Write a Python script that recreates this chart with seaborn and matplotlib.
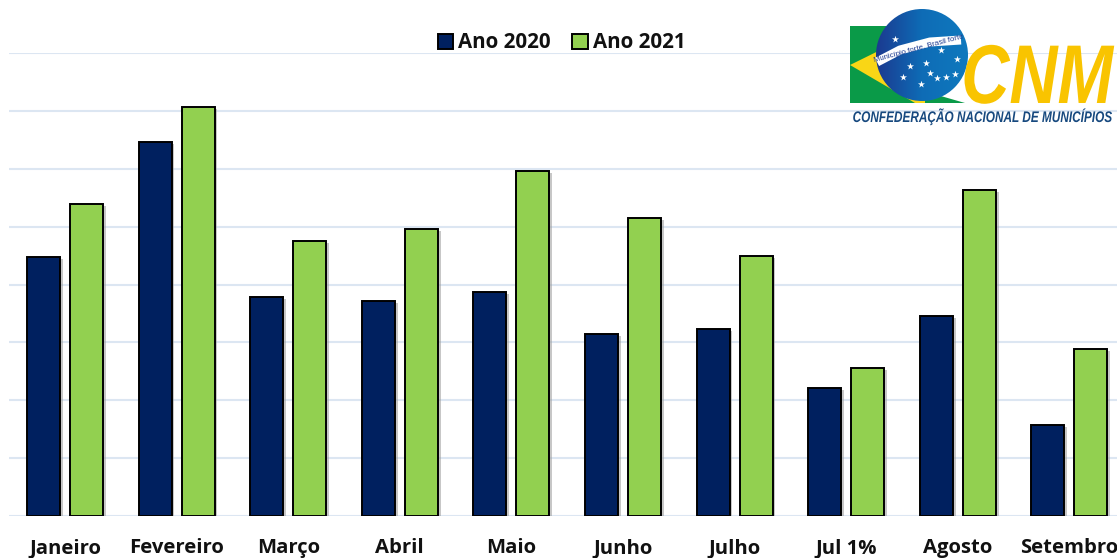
import numpy as np
import pandas as pd
import matplotlib.pyplot as plt
import matplotlib.patheffects as pe
from matplotlib.colors import LinearSegmentedColormap
from matplotlib.patches import Circle, Polygon
from matplotlib.transforms import Affine2D
import seaborn as sns

meses = ['Janeiro', 'Fevereiro', 'Março', 'Abril', 'Maio', 'Junho', 'Julho', 'Jul 1%', 'Agosto', 'Setembro']
ano_2020 = [4.47, 6.46, 3.78, 3.71, 3.87, 3.14, 3.23, 2.21, 3.45, 1.57]
ano_2021 = [5.39, 7.06, 4.75, 4.96, 5.96, 5.15, 4.49, 2.56, 5.63, 2.88]

# logo bits, in pixels of the picture
estrelas_x = [895, 941, 957, 910, 926, 903, 930, 937, 946, 955, 921]
estrelas_y = [39, 50, 59, 66, 63, 77, 73, 78, 77, 74, 84]
faixa_x = [877, 900, 930, 961]
faixa_y = [62, 50, 42, 40]


# the logo lettering is taller than any installed font, so stretch it upwards
class Esticar(pe.AbstractPathEffect):
    def __init__(self, base, sy, dy=0):
        super().__init__()
        self.base, self.sy, self.dy = base, sy, dy

    def draw_path(self, renderer, gc, tpath, affine, rgbFace=None):
        t = Affine2D().translate(0, -self.base).scale(1, self.sy).translate(0, self.base + self.dy)
        renderer.draw_path(gc, tpath, affine + t, rgbFace)


sns.set_theme(style='white')
plt.rcParams['font.family'] = ['Open Sans', 'DejaVu Sans']

df = pd.DataFrame({
    'mes': meses * 2,
    'ano': ['Ano 2020'] * len(meses) + ['Ano 2021'] * len(meses),
    'valor': ano_2020 + ano_2021,
})

fig = plt.figure(figsize=(11.17, 5.58), dpi=100)
ax = fig.add_axes([9.2 / 1117, 1 - 516 / 558, 1116 / 1117, 463 / 558])

sns.barplot(data=df, x='mes', y='valor', hue='ano', palette=['#00205F', '#92D050'],
            width=0.77, gap=0.23, edgecolor='black', linewidth=1.4, saturation=1, ax=ax, zorder=3)

for bar in ax.patches:
    bar.set_path_effects([pe.SimplePatchShadow(offset=(2, -1.5), shadow_rgbFace='#9a9a9a', alpha=0.55), pe.Normal()])

ax.set_ylim(0, 8)
ax.set_xlim(-0.5, 9.5)
ax.set_yticks(range(9))
ax.set_yticklabels([])
ax.grid(axis='y', color='#DCE6F2', linewidth=1.5, zorder=0)
ax.set_axisbelow(True)
ax.set_xlabel('')
ax.set_ylabel('')
ax.tick_params(axis='x', length=0, pad=16)
for lab in ax.get_xticklabels():
    lab.set_fontsize(14.6)
    lab.set_fontweight('bold')
    lab.set_color('#111111')
sns.despine(ax=ax, left=True, bottom=True, top=True, right=True)

leg = ax.legend(loc='center', bbox_to_anchor=((561.5 - 9.2) / 1116, (516 - 43) / 463), ncol=2, frameon=False,
                prop={'size': 14.8, 'weight': 'bold'}, handlelength=0.75, handleheight=0.75,
                handletextpad=0.25, columnspacing=1.05, borderpad=0)
for t in leg.get_texts():
    t.set_color('#111111')
for h in leg.legend_handles:
    h.set_path_effects([])

# logo CNM
logo = fig.add_axes([0, 0, 1, 1], zorder=5)
logo.axis('off')
logo.patch.set_alpha(0)

logo.add_patch(Polygon([(850, 26), (920, 26), (920, 90), (965, 103), (850, 103)], color='#0A9A48', lw=0))
logo.add_patch(Polygon([(850, 65), (925, 28), (925, 103), (915, 103)], color='#F9D616', lw=0))

grad = LinearSegmentedColormap.from_list('globo', ['#1B3A90', '#0E6CB6', '#0F79BE'])
img = logo.imshow(np.linspace(0, 1, 92).reshape(1, -1), extent=(876, 968, 101, 9), cmap=grad, aspect='auto', zorder=2)
globo = Circle((922, 55), 46, transform=logo.transData, fc='none', lw=0)
logo.add_patch(globo)
img.set_clip_path(globo)
logo.set_xlim(0, 1117)
logo.set_ylim(558, 0)

logo.plot(faixa_x, faixa_y, color='white', lw=6.5, zorder=3, solid_capstyle='butt')
logo.text(919, 49, 'Município forte, Brasil forte', fontsize=5.6, color='#1B3A90', rotation=15,
          ha='center', va='center', zorder=4, family='Liberation Sans')
logo.scatter(estrelas_x, estrelas_y, marker='*', s=28, color='white', lw=0, zorder=4)

logo.text(1113, 94, 'CNM', fontsize=48, color='#F9C400', fontweight='bold', fontstyle='italic',
          family='Liberation Sans', ha='right', va='baseline', zorder=6,
          path_effects=[Esticar(558 - 94, 1.25, dy=-9)])
logo.text(1111, 122, 'CONFEDERAÇÃO NACIONAL DE MUNICÍPIOS', fontsize=8.5, color='#17497F', fontweight='bold',
          fontstyle='italic', family='Liberation Sans', ha='right', va='baseline', zorder=6,
          path_effects=[Esticar(558 - 122, 1.3)])

fig.savefig('out.png', dpi=100)
